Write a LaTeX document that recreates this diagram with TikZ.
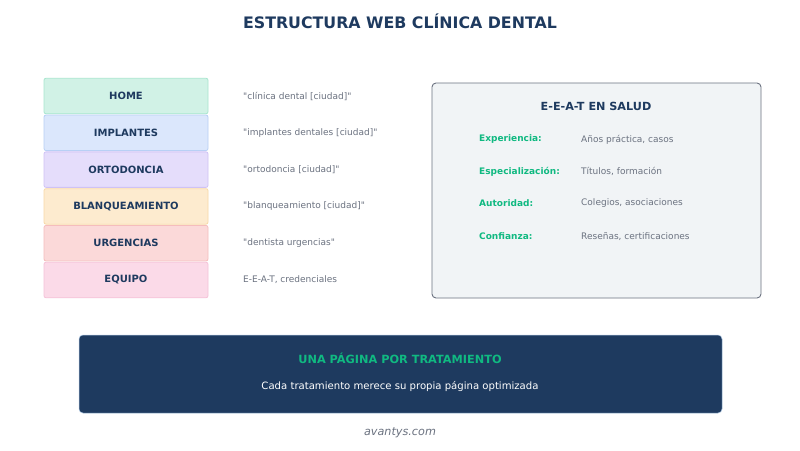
\documentclass[tikz,border=0pt]{standalone}
\usepackage{fontspec}
\setmainfont{DejaVu Sans}[Ligatures=TeXOff]
\usetikzlibrary{positioning}
\definecolor{navy}{HTML}{1E3A5F}
\definecolor{emer}{HTML}{10B981}
\definecolor{gtext}{HTML}{6B7280}
\definecolor{panelbg}{HTML}{F1F4F6}
\definecolor{panelbd}{HTML}{6B7280}
\definecolor{f1}{HTML}{D1F2E6}\definecolor{d1}{HTML}{A8E6CF}
\definecolor{f2}{HTML}{DBE7FC}\definecolor{d2}{HTML}{B8D0F5}
\definecolor{f3}{HTML}{E5DDFB}\definecolor{d3}{HTML}{CFC2F5}
\definecolor{f4}{HTML}{FDEBCF}\definecolor{d4}{HTML}{F8D9A8}
\definecolor{f5}{HTML}{FBD9D9}\definecolor{d5}{HTML}{F5BDBD}
\definecolor{f6}{HTML}{FBDAE8}\definecolor{d6}{HTML}{F5C2D8}
\definecolor{bbd}{HTML}{A9C4E0}
\tikzset{
  x=1pt,y=-1pt,
  page/.style={draw, line width=0.8pt, rounded corners=2pt, minimum width=164pt, minimum height=35.5pt, inner sep=0pt, text=navy, font=\fontsize{10}{12}\selectfont\bfseries},
  kw/.style={anchor=west, text=gtext, font=\fontsize{9}{11}\selectfont, inner sep=0pt},
  elab/.style={anchor=west, text=emer, font=\fontsize{9}{11}\selectfont\bfseries, inner sep=0pt},
  eval/.style={anchor=west, text=gtext, font=\fontsize{9}{11}\selectfont, inner sep=0pt},
}
\begin{document}
\begin{tikzpicture}
\useasboundingbox[fill=white] (0,0) rectangle (800,450);
\node[text=navy, font=\fontsize{15.8}{18}\selectfont\bfseries] (title) at (400,21.5) {ESTRUCTURA WEB CLÍNICA DENTAL};

\node[page, fill=f1, draw=d1] (home) at (126,96) {HOME};
\node[page, fill=f2, draw=d2] (impl) at (126,132.8) {IMPLANTES};
\node[page, fill=f3, draw=d3] (orto) at (126,169.6) {ORTODONCIA};
\node[page, fill=f4, draw=d4] (blan) at (126,206.4) {BLANQUEAMIENTO};
\node[page, fill=f5, draw=d5] (urg) at (126,243.2) {URGENCIAS};
\node[page, fill=f6, draw=d6] (equ) at (126,280) {EQUIPO};

\node[kw] (k1) at (243,96) {"clínica dental [ciudad]"};
\node[kw] (k2) at (243,132.8) {"implantes dentales [ciudad]"};
\node[kw] (k3) at (243,169.6) {"ortodoncia [ciudad]"};
\node[kw] (k4) at (243,206.4) {"blanqueamiento [ciudad]"};
\node[kw] (k5) at (243,243.2) {"dentista urgencias"};
\node[kw] (k6) at (243,280) {E-E-A-T, credenciales};

\draw[fill=panelbg, draw=panelbd, line width=0.9pt, rounded corners=4pt] (432,83) rectangle (761,298);
\node[text=navy, font=\fontsize{11.2}{13}\selectfont\bfseries] (eat) at (596,106.5) {E-E-A-T EN SALUD};
\node[elab] (l1) at (479,139.5) {Experiencia:};
\node[elab] (l2) at (479,171.5) {Especialización:};
\node[elab] (l3) at (479,203.5) {Autoridad:};
\node[elab] (l4) at (479,236.5) {Confianza:};
\node[eval] (v1) at (581,139.5) {Años práctica, casos};
\node[eval] (v2) at (581,171.5) {Títulos, formación};
\node[eval] (v3) at (581,203.5) {Colegios, asociaciones};
\node[eval] (v4) at (581,236.5) {Reseñas, certificaciones};

\draw[fill=navy, draw=bbd, line width=0.5pt, rounded corners=4pt] (79,335) rectangle (722,413);
\node[text=emer, font=\fontsize{11.3}{13}\selectfont\bfseries] (bt) at (400,358.5) {UNA PÁGINA POR TRATAMIENTO};
\node[text=white, font=\fontsize{10.1}{12}\selectfont] (bs) at (400,386.5) {Cada tratamiento merece su propia página optimizada};
\node[text=gtext, font=\fontsize{11.2}{13}\selectfont\itshape] (foot) at (400,433) {avantys.com};
\end{tikzpicture}
\end{document}
